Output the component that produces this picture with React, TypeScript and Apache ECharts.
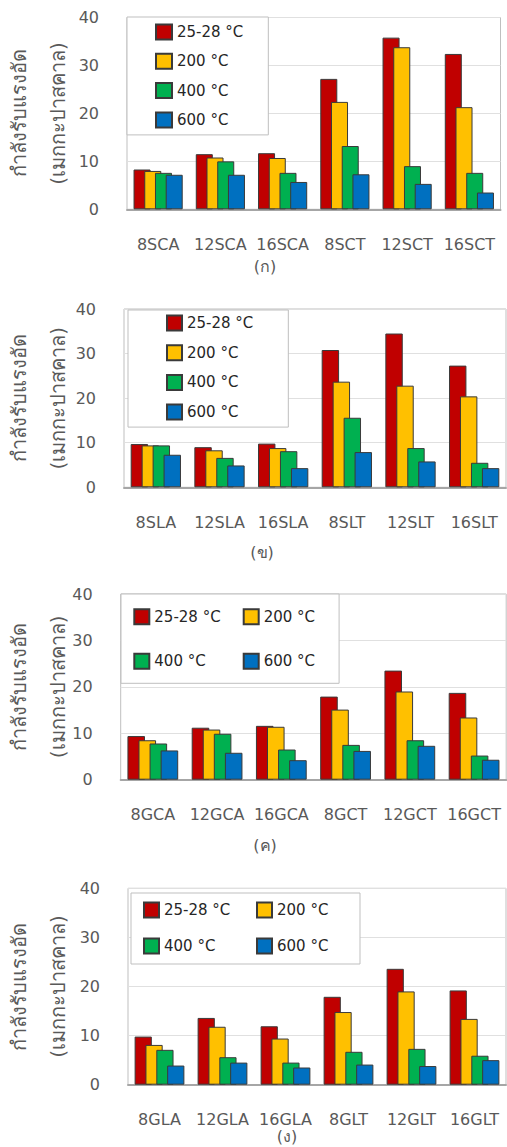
import React, { useEffect, useRef } from "react";
import * as echarts from "echarts";

const seriesNames = ["25-28 °C", "200 °C", "400 °C", "600 °C"];
const colors = ["#C00000", "#FFC000", "#00B050", "#0070C0"];
const yTicks = { min: 0, max: 40, interval: 10 };

const cat1 = ["8SCA", "12SCA", "16SCA", "8SCT", "12SCT", "16SCT"];
const p1_25 = [8.3, 11.5, 11.7, 27.2, 35.8, 32.4];
const p1_200 = [8.0, 10.8, 10.7, 22.4, 33.8, 21.3];
const p1_400 = [7.6, 10.0, 7.6, 13.2, 9.0, 7.6];
const p1_600 = [7.2, 7.2, 5.7, 7.3, 5.3, 3.5];

const cat2 = ["8SLA", "12SLA", "16SLA", "8SLT", "12SLT", "16SLT"];
const p2_25 = [9.7, 9.0, 9.8, 30.8, 34.5, 27.3];
const p2_200 = [9.4, 8.3, 8.8, 23.7, 22.8, 20.4];
const p2_400 = [9.4, 6.6, 8.1, 15.6, 8.8, 5.5];
const p2_600 = [7.3, 4.9, 4.3, 7.9, 5.8, 4.3];

const cat3 = ["8GCA", "12GCA", "16GCA", "8GCT", "12GCT", "16GCT"];
const p3_25 = [9.4, 11.2, 11.6, 17.9, 23.5, 18.7];
const p3_200 = [8.5, 10.8, 11.4, 15.1, 19.0, 13.4];
const p3_400 = [7.8, 9.9, 6.5, 7.5, 8.5, 5.2];
const p3_600 = [6.3, 5.8, 4.2, 6.2, 7.3, 4.3];

const cat4 = ["8GLA", "12GLA", "16GLA", "8GLT", "12GLT", "16GLT"];
const p4_25 = [9.8, 13.6, 11.9, 17.9, 23.6, 19.2];
const p4_200 = [8.1, 11.8, 9.4, 14.8, 19.0, 13.4];
const p4_400 = [7.1, 5.6, 4.5, 6.7, 7.3, 5.9];
const p4_600 = [3.9, 4.5, 3.5, 4.1, 3.8, 5.0];

const panelLabels = ["(ก)", "(ข)", "(ค)", "(ง)"];
const yTitle1 = "กำลังรับแรงอัด";
const yTitle2 = "(เมกกะปาสคาล)";

const FONT = "'DejaVu Sans', sans-serif";
const GREY = "#595959";

export default function App() {
  const ref = useRef<HTMLDivElement>(null);
  useEffect(() => {
    if (!ref.current) return;
    const chart = echarts.init(ref.current, null, { renderer: "svg" });

    const cats = [cat1, cat2, cat3, cat4];
    const data = [
      [p1_25, p1_200, p1_400, p1_600],
      [p2_25, p2_200, p2_400, p2_600],
      [p3_25, p3_200, p3_400, p3_600],
      [p4_25, p4_200, p4_400, p4_600],
    ];
    const grids = [
      { left: 127, top: 17.5, width: 373.5, height: 191.8 },
      { left: 124, top: 309, width: 382, height: 178.3 },
      { left: 120.7, top: 594, width: 385.5, height: 185.7 },
      { left: 128, top: 888.3, width: 378, height: 196.4 },
    ];
    const subPos = [
      [265, 266],
      [262, 552],
      [265, 845],
      [287, 1136],
    ];

    const legendText = { fontSize: 15, color: "#262626", fontFamily: FONT };
    const legends: any[] = [
      {
        orient: "vertical",
        left: 127,
        top: 17,
        padding: [6, 25, 6, 28],
        itemWidth: 16,
        itemHeight: 15,
        itemGap: 11.3,
        textStyle: { ...legendText, lineHeight: 18 },
      },
      {
        orient: "vertical",
        left: 128,
        top: 310,
        padding: [4, 35, 6, 38],
        itemWidth: 15,
        itemHeight: 15,
        itemGap: 11.7,
        textStyle: { ...legendText, lineHeight: 18 },
      },
      {
        orient: "horizontal",
        left: 121,
        top: 594,
        width: 216,
        padding: [7.7, 1, 7, 12.3],
        itemWidth: 15,
        itemHeight: 15,
        itemGap: 14,
        textStyle: { ...legendText, lineHeight: 30.3, width: 74.4 },
      },
      {
        orient: "horizontal",
        left: 131,
        top: 893,
        width: 223,
        padding: [6, 5, 7, 12],
        itemWidth: 15,
        itemHeight: 15,
        itemGap: 14,
        textStyle: { ...legendText, lineHeight: 22, width: 78 },
      },
    ].map((l) => ({
      ...l,
      data: seriesNames,
      icon: "rect",
      backgroundColor: "#ffffff",
      borderColor: "#bfbfbf",
      borderWidth: 1,
      selectedMode: false,
    }));

    const series: any[] = [];
    data.forEach((panel, pi) => {
      panel.forEach((vals, si) => {
        series.push({
          type: "bar",
          name: seriesNames[si],
          xAxisIndex: pi,
          yAxisIndex: pi,
          data: vals,
          barGap: "-37%",
          barCategoryGap: "21%",
          itemStyle: {
            color: colors[si],
            borderColor: "#3a3a3a",
            borderWidth: 1,
          },
        });
      });
    });

    const graphic: any[] = [];
    grids.forEach((g, i) => {
      const cy = g.top + g.height / 2;
      graphic.push({
        type: "text",
        x: 19,
        y: cy,
        rotation: Math.PI / 2,
        style: {
          text: yTitle1,
          fontSize: 20,
          fill: GREY,
          fontFamily: FONT,
          align: "center",
          verticalAlign: "middle",
        },
      });
      graphic.push({
        type: "text",
        x: 58,
        y: cy,
        rotation: Math.PI / 2,
        style: {
          text: yTitle2,
          fontSize: 20,
          fill: GREY,
          fontFamily: FONT,
          align: "center",
          verticalAlign: "middle",
        },
      });
      graphic.push({
        type: "text",
        x: subPos[i][0],
        y: subPos[i][1],
        style: {
          text: panelLabels[i],
          fontSize: 16,
          fill: GREY,
          fontFamily: FONT,
          align: "center",
          verticalAlign: "middle",
        },
      });
    });

    chart.setOption({
      animation: false,
      grid: grids.map((g) => ({
        ...g,
        show: true,
        borderColor: "#bfbfbf",
        borderWidth: 1,
        backgroundColor: "transparent",
      })),
      legend: legends,
      xAxis: cats.map((c, i) => ({
        type: "category",
        gridIndex: i,
        data: c,
        axisLine: { show: true, lineStyle: { color: "#a6a6a6", width: 2 } },
        axisTick: { show: false },
        axisLabel: {
          margin: 27,
          fontSize: 16,
          color: GREY,
          fontFamily: FONT,
          interval: 0,
        },
      })),
      yAxis: cats.map((_, i) => ({
        type: "value",
        gridIndex: i,
        min: yTicks.min,
        max: yTicks.max,
        interval: yTicks.interval,
        axisLine: { show: false },
        axisTick: { show: false },
        axisLabel: {
          margin: 28,
          fontSize: 16,
          color: GREY,
          fontFamily: FONT,
        },
        splitLine: { lineStyle: { color: "#e0e0e0", width: 1 } },
      })),
      series,
      graphic,
    });
    return () => chart.dispose();
  }, []);
  return (
    <div
      ref={ref}
      style={{ position: "absolute", left: 0, top: 0, width: 507, height: 1147 }}
    />
  );
}
